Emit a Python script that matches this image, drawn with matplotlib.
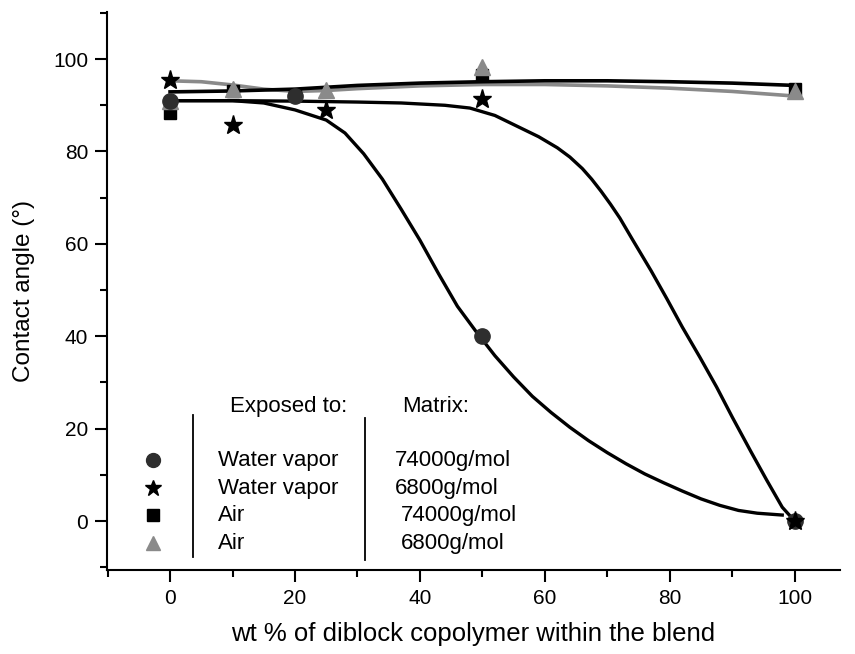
import matplotlib.pyplot as plt
from matplotlib.ticker import MultipleLocator

plt.rcParams['font.family'] = ['Liberation Sans', 'DejaVu Sans']

# measured points
circle_x = [0, 20, 50, 100]
circle_y = [91, 92, 40, 0]
star_x = [0, 10, 25, 50, 100]
star_y = [95.4, 85.7, 89, 91.3, 0]
square_x = [0, 10, 20, 50, 100]
square_y = [88.3, 93.2, 92.2, 96.5, 93.6]
tri_x = [0, 10, 25, 50, 100]
tri_y = [91, 93.6, 93.4, 98.3, 93]

# fitted curves
fit_circle_x = [0, 10, 15, 20, 25, 28, 31, 34, 37, 40, 43, 46, 49, 52, 55, 58, 61, 64,
                67, 70, 73, 76, 79, 82, 85, 88, 91, 94, 98]
fit_circle_y = [91, 91, 90.5, 89, 86.8, 84, 79.5, 74, 67.5, 60.8, 53.5, 46.5, 41, 35.8,
                31.2, 27, 23.5, 20.3, 17.4, 14.8, 12.4, 10.2, 8.3, 6.5, 4.8, 3.4, 2.3, 1.7, 1.3]
fit_star_x = [0, 10, 20, 30, 37, 44, 48, 52, 55.5, 59, 62, 64, 66, 67.5, 69, 70.5, 72, 74,
              77, 79.5, 82, 84.8, 87.5, 90, 93, 95.5, 98, 100]
fit_star_y = [91, 91, 90.9, 90.7, 90.5, 90, 89.4, 87.8, 85.5, 83.2, 80.8, 78.8, 76.3, 74,
              71.4, 68.6, 65.6, 61, 54.2, 48.2, 42, 35.5, 29, 22.5, 15, 8.9, 3, 0]
fit_square_x = [0, 10, 20, 30, 40, 50, 60, 70, 80, 90, 100]
fit_square_y = [92.9, 93.1, 93.5, 94.3, 94.8, 95.1, 95.3, 95.3, 95.1, 94.8, 94.3]
fit_tri_x = [0, 5, 10, 15, 20, 25, 30, 40, 50, 60, 70, 80, 90, 100]
fit_tri_y = [95.3, 95.1, 94.4, 93.5, 93.0, 93.2, 93.6, 94.2, 94.5, 94.5, 94.2, 93.7, 93.0, 92.0]

exposed = ['Water vapor', 'Water vapor', 'Air', 'Air']
matrix = ['74000g/mol', '6800g/mol', '74000g/mol', '6800g/mol']

fig = plt.figure(figsize=(8.55, 6.54), dpi=100)
ax = fig.add_axes([0.1251, 0.1284, 0.857, 0.8533])

gray = '#8a8a8a'
ax.plot(fit_tri_x, fit_tri_y, color=gray, lw=2.6, zorder=2)
ax.plot(fit_square_x, fit_square_y, color='black', lw=2.6, zorder=3)
ax.plot(fit_circle_x, fit_circle_y, color='black', lw=2.4, zorder=3)
ax.plot(fit_star_x, fit_star_y, color='black', lw=2.4, zorder=3)

ax.plot(square_x, square_y, 's', color='black', ms=9, zorder=4)
ax.plot(tri_x, tri_y, '^', color=gray, ms=11, zorder=5)
ax.plot(circle_x, circle_y, 'o', color='#2e2e2e', ms=11, zorder=6)
ax.plot(star_x, star_y, '*', color='black', ms=14, zorder=6)

# hand-made legend inside the axes
leg_y = [13.2, 7.1, 1.3, -4.8]
ax.plot([-2.7], [leg_y[0]], 'o', color='#2e2e2e', ms=10)
ax.plot([-2.7], [leg_y[1]], '*', color='black', ms=12)
ax.plot([-2.7], [leg_y[2]], 's', color='black', ms=8)
ax.plot([-2.7], [leg_y[3]], '^', color=gray, ms=10)
ax.text(9.6, 24.7, 'Exposed to:', fontsize=16, va='center')
ax.text(37.1, 24.7, 'Matrix:', fontsize=16, va='center')
for i in range(4):
    ax.text(7.7, leg_y[i], exposed[i], fontsize=16, va='center')
    ax.text(36.0 if i < 2 else 37.0, leg_y[i], matrix[i], fontsize=16, va='center')
ax.plot([3.7, 3.7], [22.9, -7.8], color='black', lw=1.3)
ax.plot([31.2, 31.2], [22.3, -8.4], color='black', lw=1.3)

ax.set_xlim(-10.1, 107.2)
ax.set_ylim(-10.6, 110.2)
ax.xaxis.set_major_locator(MultipleLocator(20))
ax.xaxis.set_minor_locator(MultipleLocator(10))
ax.yaxis.set_major_locator(MultipleLocator(20))
ax.yaxis.set_minor_locator(MultipleLocator(10))
ax.spines['top'].set_visible(False)
ax.spines['right'].set_visible(False)
ax.spines['left'].set_linewidth(1.5)
ax.spines['bottom'].set_linewidth(1.5)
ax.tick_params(which='major', direction='out', length=8.5, width=1.5, labelsize=15, pad=5)
ax.tick_params(which='minor', direction='out', length=5, width=1.5)

ax.set_xlabel('wt % of diblock copolymer within the blend', fontsize=18.5, labelpad=10)
ax.set_ylabel('Contact angle (°)', fontsize=17.5, labelpad=13)

fig.savefig('out.png', dpi=100)
